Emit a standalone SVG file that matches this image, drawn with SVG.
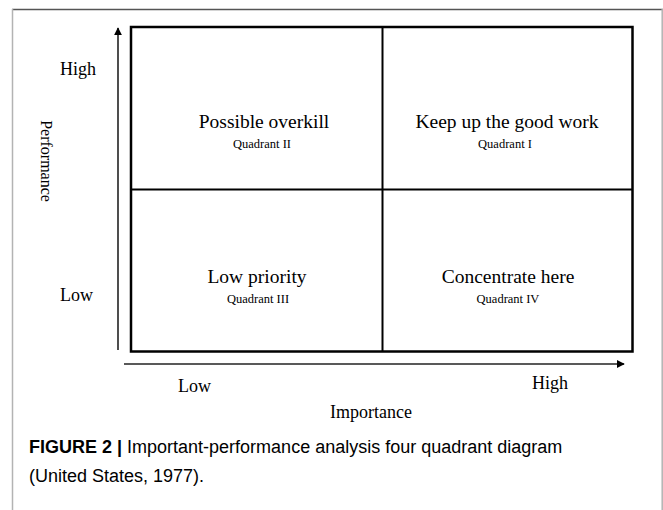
<svg xmlns="http://www.w3.org/2000/svg" width="663" height="510" viewBox="0 0 663 510">
  <defs>
    <marker id="arrow" viewBox="0 0 10 10" refX="9" refY="5" markerWidth="8" markerHeight="8" markerUnits="userSpaceOnUse" orient="auto">
      <path d="M0,0 L10,5 L0,10 z" fill="#000"/>
    </marker>
    <style>
      .frame-top { stroke: #555; stroke-width: 1.5; fill: none; }
      .frame-side { stroke: #b3b3b3; stroke-width: 1.5; fill: none; }
      .grid { stroke: #000; stroke-width: 2.5; fill: none; }
      .divider { stroke: #000; stroke-width: 2; fill: none; }
      .axis { stroke: #222; stroke-width: 1.6; fill: none; marker-end: url(#arrow); }
      .serif { font-family: "Liberation Serif", "Times New Roman", serif; fill: #000; }
      .title { font-size: 19.5px; text-anchor: middle; }
      .sub { font-size: 12.5px; text-anchor: middle; }
      .label { font-size: 18px; }
      .caption { font-family: "Liberation Sans", Arial, sans-serif; font-size: 18px; fill: #000; }
    </style>
  </defs>

  <rect width="663" height="510" fill="#fff"/>

  <!-- page frame -->
  <g id="frame">
    <line class="frame-top" x1="12" y1="9.5" x2="663" y2="9.5"/>
    <line class="frame-side" x1="12.5" y1="9" x2="12.5" y2="510"/>
    <line class="frame-side" x1="662.2" y1="9" x2="662.2" y2="510"/>
  </g>

  <!-- quadrant grid -->
  <g id="grid">
    <rect class="grid" x="131" y="27" width="501.5" height="324.5"/>
    <line class="divider" x1="382.5" y1="27" x2="382.5" y2="351.5"/>
    <line class="divider" x1="131" y1="189.5" x2="632.5" y2="189.5"/>
  </g>

  <!-- axes -->
  <g id="connectors">
    <line class="axis" x1="118" y1="350" x2="118" y2="28"/>
    <line class="axis" x1="124" y1="364" x2="624" y2="364"/>
  </g>

  <g id="quadrant-2">
    <text class="serif title" x="264" y="128">Possible overkill</text>
    <text class="serif sub" x="262" y="148">Quadrant II</text>
  </g>
  <g id="quadrant-1">
    <text class="serif title" x="507" y="128">Keep up the good work</text>
    <text class="serif sub" x="505" y="148">Quadrant I</text>
  </g>
  <g id="quadrant-3">
    <text class="serif title" x="257" y="283">Low priority</text>
    <text class="serif sub" x="258" y="303">Quadrant III</text>
  </g>
  <g id="quadrant-4">
    <text class="serif title" x="508" y="283">Concentrate here</text>
    <text class="serif sub" x="508" y="303">Quadrant IV</text>
  </g>

  <!-- axis labels -->
  <g id="performance-axis">
    <text class="serif label" x="60" y="75">High</text>
    <text class="serif label" x="60" y="301">Low</text>
    <text class="serif" font-size="16" text-anchor="middle" transform="translate(41,161) rotate(90)">Performance</text>
  </g>
  <g id="importance-axis">
    <text class="serif label" x="178" y="392">Low</text>
    <text class="serif label" x="532" y="389">High</text>
    <text class="serif label" text-anchor="middle" x="371" y="418">Importance</text>
  </g>

  <!-- figure caption -->
  <g id="caption">
    <text class="caption" x="29" y="453"><tspan font-weight="bold">FIGURE 2 |</tspan> Important-performance analysis four quadrant diagram</text>
    <text class="caption" x="29" y="482">(United States, 1977).</text>
  </g>
</svg>
